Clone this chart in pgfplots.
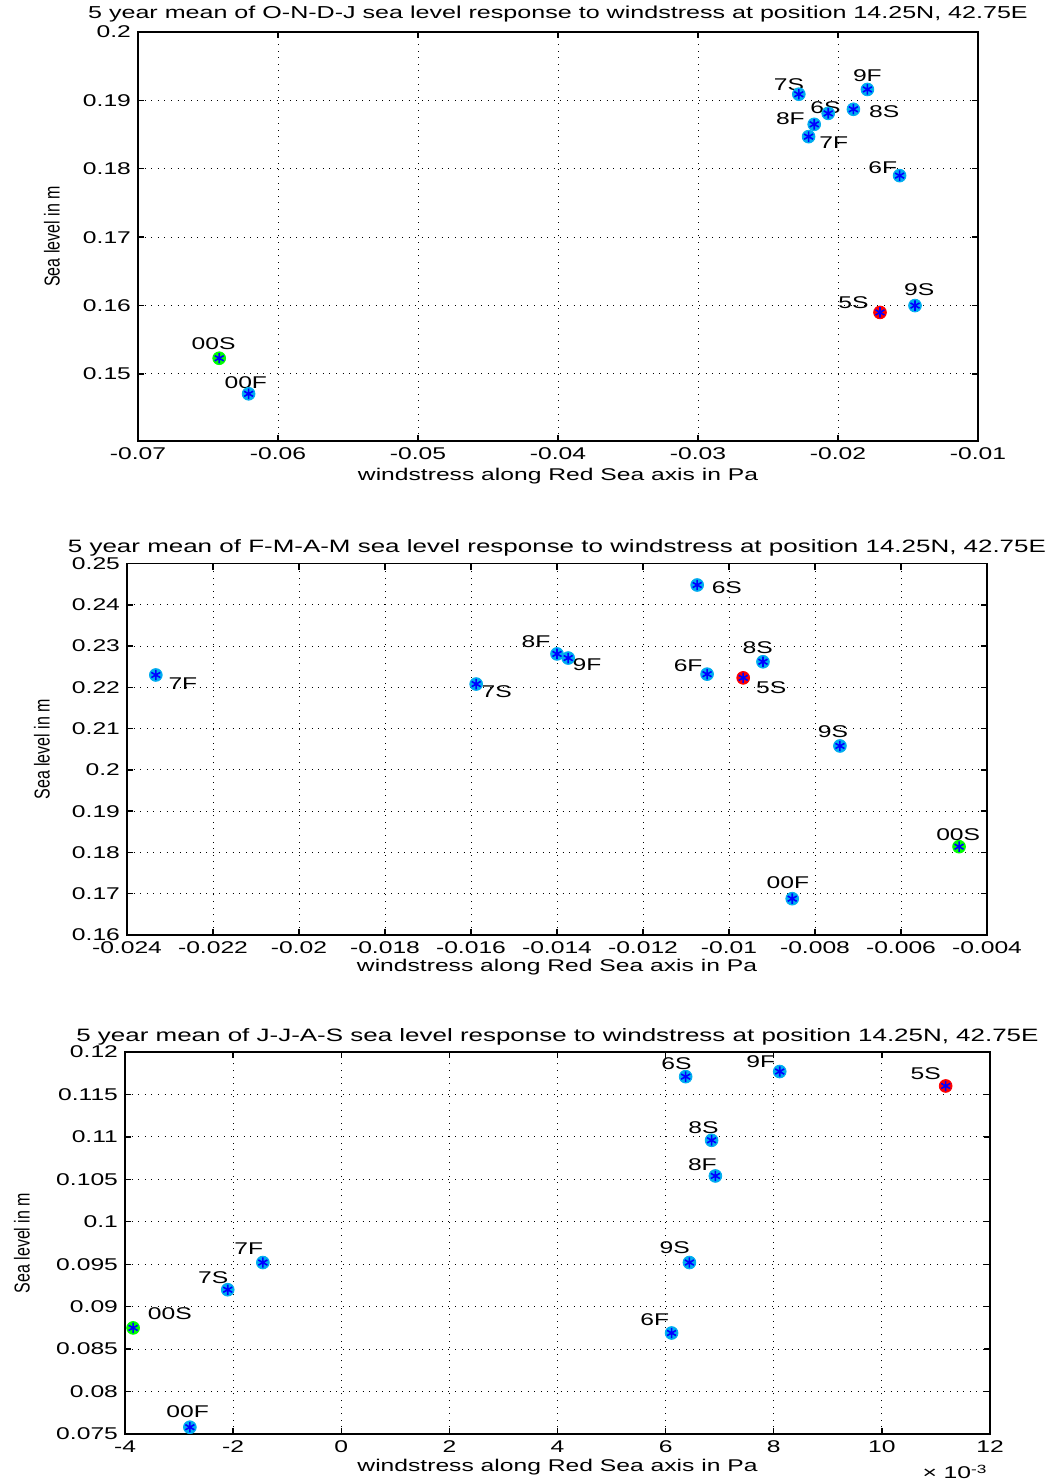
\documentclass[border=0pt]{standalone}
\usepackage{fontspec}
\setmainfont{Liberation Sans}[FakeStretch=1.45]
\newfontfamily\ylfont{Liberation Sans}
\usepackage{graphicx}
\usepackage{pgfplots}
\pgfplotsset{compat=1.18}
\tikzset{lbl/.style={font=\fontsize{8.5}{10}\selectfont, inner sep=0pt, anchor=center}}
\pgfplotsset{
 mystyle/.style={
  scale only axis, anchor=south west,
  axis line style={line width=0.8pt},
  grid=major, major grid style={black, line width=0.5pt, dash pattern=on 0.5pt off 2.8pt},
  tick style={black, line width=0.7pt}, major tick length=3pt,
  tick align=inside,
  font=\fontsize{8.5}{10}\selectfont,
  ticklabel style={font=\fontsize{8.5}{10}\selectfont},
  scaled ticks=false,
  xlabel style={at={(rel axis cs:0.5,0)}, anchor=center, yshift=-17.5pt},
  title style={at={(rel axis cs:0.5,1)}, anchor=center, yshift=3pt, font=\fontsize{8.8}{10}\selectfont},
  ylabel={\scalebox{1}[1.35]{\ylfont\fontsize{8}{9.6}\selectfont Sea level in m}},
  xlabel={windstress along Red Sea axis in Pa},
  clip=false,
 },
 halo/.style={only marks, mark=*, mark size=3.2pt, mark options={draw=#1, fill=#1}},
 star/.style={only marks, mark=asterisk, mark size=2.6pt, mark options={draw=blue, line width=0.8pt}},
}
\begin{document}
\begin{tikzpicture}
\path[use as bounding box] (0,0) rectangle (522pt,-741.5pt);
% ---------- Panel 1 ----------
\begin{axis}[mystyle, at={(69pt,-220.5pt)}, width=420pt, height=204.5pt,
  xmin=-0.07, xmax=-0.01, ymin=0.1402, ymax=0.2,
  xtick={-0.07,-0.06,-0.05,-0.04,-0.03,-0.02,-0.01},
  xticklabels={-0.07,-0.06,-0.05,-0.04,-0.03,-0.02,-0.01},
  ytick={0.15,0.16,0.17,0.18,0.19,0.2},
  yticklabels={0.15,0.16,0.17,0.18,0.19,0.2},
  title style={font=\fontsize{8.65}{10}\selectfont},
  ylabel style={at={(rel axis cs:0,0.5)}, anchor=center, yshift=43pt},
  title={5 year mean of O-N-D-J sea level response to windstress at position 14.25N, 42.75E}]
\addplot[halo=cyan] coordinates {(-0.0228,0.1909) (-0.0179,0.1916) (-0.0207,0.1881) (-0.0189,0.1887) (-0.0217,0.1865) (-0.0221,0.1847) (-0.0156,0.1790) (-0.0145,0.1600) (-0.0621,0.1471)};
\addplot[halo=green] coordinates {(-0.0642,0.1523)};
\addplot[halo=red] coordinates {(-0.0170,0.1590)};
\addplot[star] coordinates {(-0.0228,0.1909) (-0.0179,0.1916) (-0.0207,0.1881) (-0.0189,0.1887) (-0.0217,0.1865) (-0.0221,0.1847) (-0.0156,0.1790) (-0.0145,0.1600) (-0.0621,0.1471) (-0.0642,0.1523) (-0.0170,0.1590)};
\node[lbl] at (axis cs:-0.0235,0.1923) {7S};
\node[lbl] at (axis cs:-0.0179,0.1936) {9F};
\node[lbl] at (axis cs:-0.0209,0.1890) {6S};
\node[lbl] at (axis cs:-0.0167,0.1883) {8S};
\node[lbl] at (axis cs:-0.0234,0.1874) {8F};
\node[lbl] at (axis cs:-0.0203,0.1838) {7F};
\node[lbl] at (axis cs:-0.0168,0.1801) {6F};
\node[lbl] at (axis cs:-0.0189,0.1604) {5S};
\node[lbl] at (axis cs:-0.0142,0.1623) {9S};
\node[lbl] at (axis cs:-0.0646,0.1545) {00S};
\node[lbl] at (axis cs:-0.0623,0.1487) {00F};
\end{axis}
% ---------- Panel 2 ----------
\begin{axis}[mystyle, at={(63.5pt,-467.5pt)}, width=430pt, height=185.75pt,
  xmin=-0.024, xmax=-0.004, ymin=0.16, ymax=0.25,
  xtick={-0.024,-0.022,-0.02,-0.018,-0.016,-0.014,-0.012,-0.01,-0.008,-0.006,-0.004},
  xticklabels={-0.024,-0.022,-0.02,-0.018,-0.016,-0.014,-0.012,-0.01,-0.008,-0.006,-0.004},
  ytick={0.16,0.17,0.18,0.19,0.2,0.21,0.22,0.23,0.24,0.25},
  yticklabels={0.16,0.17,0.18,0.19,0.2,0.21,0.22,0.23,0.24,0.25},
  xlabel style={yshift=1.5pt},
  title style={yshift=-1.25pt, font=\fontsize{8.95}{10}\selectfont},
  ylabel style={at={(rel axis cs:0,0.5)}, anchor=center, yshift=42.5pt},
  title={5 year mean of F-M-A-M sea level response to windstress at position 14.25N, 42.75E}]
\addplot[halo=cyan] coordinates {(-0.01074,0.2448) (-0.0140,0.2281) (-0.01374,0.2271) (-0.01051,0.2232) (-0.00921,0.2262) (-0.02333,0.2230) (-0.01588,0.2208) (-0.00742,0.2058) (-0.00853,0.1688)};
\addplot[halo=green] coordinates {(-0.00465,0.1814)};
\addplot[halo=red] coordinates {(-0.00967,0.2223)};
\addplot[star] coordinates {(-0.01074,0.2448) (-0.0140,0.2281) (-0.01374,0.2271) (-0.01051,0.2232) (-0.00921,0.2262) (-0.02333,0.2230) (-0.01588,0.2208) (-0.00742,0.2058) (-0.00853,0.1688) (-0.00465,0.1814) (-0.00967,0.2223)};
\node[lbl] at (axis cs:-0.01005,0.2441) {6S};
\node[lbl] at (axis cs:-0.01449,0.2310) {8F};
\node[lbl] at (axis cs:-0.01330,0.2254) {9F};
\node[lbl] at (axis cs:-0.01095,0.2252) {6F};
\node[lbl] at (axis cs:-0.00933,0.2295) {8S};
\node[lbl] at (axis cs:-0.00902,0.2199) {5S};
\node[lbl] at (axis cs:-0.02270,0.2208) {7F};
\node[lbl] at (axis cs:-0.01540,0.2189) {7S};
\node[lbl] at (axis cs:-0.00758,0.2092) {9S};
\node[lbl] at (axis cs:-0.00467,0.1843) {00S};
\node[lbl] at (axis cs:-0.00863,0.1727) {00F};
\end{axis}
% ---------- Panel 3 ----------
\begin{axis}[mystyle, at={(62.5pt,-717pt)}, width=432.5pt, height=191pt,
  xmin=-4, xmax=12, ymin=0.075, ymax=0.12,
  xtick={-4,-2,0,2,4,6,8,10,12},
  xticklabels={-4,-2,0,2,4,6,8,10,12},
  ytick={0.075,0.08,0.085,0.09,0.095,0.1,0.105,0.11,0.115,0.12},
  yticklabels={0.075,0.08,0.085,0.09,0.095,0.1,0.105,0.11,0.115,0.12},
  xlabel style={yshift=1pt},
  title style={yshift=-1.5pt, font=\fontsize{8.95}{10}\selectfont},
  ylabel style={at={(rel axis cs:0,0.5)}, anchor=center, yshift=51.5pt},
  title={5 year mean of J-J-A-S sea level response to windstress at position 14.25N, 42.75E}]
\addplot[halo=cyan] coordinates {(6.37,0.1171) (8.11,0.1177) (6.85,0.1096) (6.92,0.1054) (-1.45,0.0952) (-2.10,0.0920) (-2.80,0.0758) (6.44,0.0952) (6.11,0.0869)};
\addplot[halo=green] coordinates {(-3.85,0.0875)};
\addplot[halo=red] coordinates {(11.18,0.1160)};
\addplot[star] coordinates {(6.37,0.1171) (8.11,0.1177) (6.85,0.1096) (6.92,0.1054) (-1.45,0.0952) (-2.10,0.0920) (-2.80,0.0758) (6.44,0.0952) (6.11,0.0869) (-3.85,0.0875) (11.18,0.1160)};
\node[lbl] at (axis cs:6.20,0.11863) {6S};
\node[lbl] at (axis cs:7.76,0.11887) {9F};
\node[lbl] at (axis cs:10.81,0.11745) {5S};
\node[lbl] at (axis cs:6.70,0.11108) {8S};
\node[lbl] at (axis cs:6.68,0.10672) {8F};
\node[lbl] at (axis cs:-1.71,0.09682) {7F};
\node[lbl] at (axis cs:-2.37,0.09340) {7S};
\node[lbl] at (axis cs:-3.17,0.08915) {00S};
\node[lbl] at (axis cs:-2.84,0.07759) {00F};
\node[lbl] at (axis cs:6.17,0.09693) {9S};
\node[lbl] at (axis cs:5.80,0.08844) {6F};
\node[lbl, xshift=-17.5pt, yshift=-19pt] at (rel axis cs:1,0) {× 10\textsuperscript{-3}};
\end{axis}
\end{tikzpicture}
\end{document}
